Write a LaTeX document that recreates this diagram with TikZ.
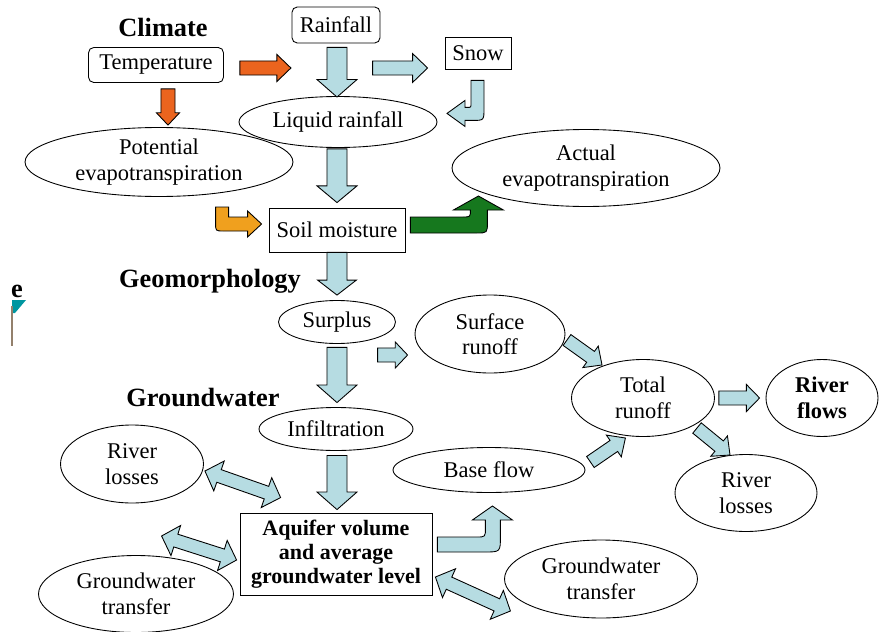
\documentclass[tikz,border=0pt]{standalone}
\usepackage{fontspec}
\setmainfont{Liberation Serif}
\usetikzlibrary{shapes.geometric, calc, positioning}

\definecolor{flowblue}{RGB}{182,220,226}
\definecolor{heatorange}{RGB}{235,100,30}
\definecolor{warmorange}{RGB}{240,160,30}
\definecolor{etgreen}{RGB}{22,120,30}
\definecolor{tealmark}{RGB}{0,150,160}

% straight block arrow: style, shaft half width, head half width, head length, from, to
\newcommand{\blockarrow}[6]{%
  \coordinate (ba-s) at #5;
  \coordinate (ba-e) at #6;
  \coordinate (ba-h) at ($(ba-e)!#4!(ba-s)$);
  \draw[#1] ($(ba-s)!#2!90:(ba-e)$) -- ($(ba-h)!#2!90:(ba-e)$) -- ($(ba-h)!#3!90:(ba-e)$) -- (ba-e)
    -- ($(ba-h)!#3!-90:(ba-e)$) -- ($(ba-h)!#2!-90:(ba-e)$) -- ($(ba-s)!#2!-90:(ba-e)$) -- cycle;
}
% double headed block arrow
\newcommand{\dblockarrow}[6]{%
  \coordinate (ba-s) at #5;
  \coordinate (ba-e) at #6;
  \coordinate (ba-h) at ($(ba-e)!#4!(ba-s)$);
  \coordinate (ba-t) at ($(ba-s)!#4!(ba-e)$);
  \draw[#1] (ba-s) -- ($(ba-t)!#3!90:(ba-e)$) -- ($(ba-t)!#2!90:(ba-e)$) -- ($(ba-h)!#2!90:(ba-e)$)
    -- ($(ba-h)!#3!90:(ba-e)$) -- (ba-e) -- ($(ba-h)!#3!-90:(ba-e)$) -- ($(ba-h)!#2!-90:(ba-e)$)
    -- ($(ba-t)!#2!-90:(ba-e)$) -- ($(ba-t)!#3!-90:(ba-e)$) -- cycle;
}

\begin{document}
\begin{tikzpicture}[
    x=0.02cm, y=-0.02cm,
    box/.style={rectangle, draw=black, line width=0.5pt, fill=white, inner sep=2pt,
                align=center, font=\fontsize{12.8}{14.5}\selectfont},
    roundbox/.style={box, rounded corners=3pt},
    oval/.style={ellipse, draw=black, line width=0.5pt, fill=white, inner sep=0pt,
                 align=center, font=\fontsize{12.8}{14.5}\selectfont},
    heading/.style={font=\fontsize{15}{18}\selectfont\bfseries},
    bluearrow/.style={draw=black, line width=0.5pt, fill=flowblue},
    orangearrow/.style={draw=black, line width=0.5pt, fill=heatorange},
    warmarrow/.style={draw=black, line width=0.5pt, fill=warmorange},
    greenarrow/.style={draw=black, line width=0.5pt, fill=etgreen}
]
\useasboundingbox (0,0) rectangle (879,632);

% ==================== CLIMATE ====================
\node[heading] (climate) at (163,27) {Climate};
\node[roundbox, minimum width=2.7cm, minimum height=0.7cm] (temperature) at (156,65) {Temperature};
\node[roundbox, minimum width=1.76cm, minimum height=0.72cm] (rainfall) at (336,25) {Rainfall};
\node[box, minimum width=1.32cm, minimum height=0.64cm] (snow) at (478,53) {Snow};
\node[oval, minimum width=3.96cm, minimum height=1.02cm] (liquid-rainfall) at (338,122) {Liquid rainfall};
\node[oval, minimum width=5.36cm, minimum height=1.38cm] (potential-et) at (159,162) {Potential\\evapotranspiration};
\node[oval, minimum width=5.36cm, minimum height=1.54cm] (actual-et) at (586,168) {Actual\\evapotranspiration};
\node[box, minimum width=2.72cm, minimum height=0.88cm] (soil-moisture) at (337,230) {Soil moisture};

% ==================== GEOMORPHOLOGY ====================
\node[heading] (geomorphology) at (210,281) {Geomorphology};
\node[oval, minimum width=2.34cm, minimum height=0.86cm] (surplus) at (337,322) {Surplus};
\node[oval, minimum width=3.0cm, minimum height=1.56cm] (surface-runoff) at (490,334) {Surface\\runoff};
\node[oval, minimum width=2.86cm, minimum height=1.54cm] (total-runoff) at (643,398) {Total\\runoff};
\node[oval, minimum width=2.24cm, minimum height=1.54cm, font=\fontsize{12.8}{14.5}\selectfont\bfseries] (river-flows) at (822,398) {River\\flows};
\node[oval, minimum width=2.84cm, minimum height=1.54cm] (river-losses-r) at (746,493) {River\\losses};

% ==================== GROUNDWATER ====================
\node[heading] (groundwater) at (203,398) {Groundwater};
\node[oval, minimum width=3.08cm, minimum height=0.86cm] (infiltration) at (336,429) {Infiltration};
\node[oval, minimum width=3.84cm, minimum height=0.9cm] (base-flow) at (489,470) {Base flow};
\node[oval, minimum width=2.86cm, minimum height=1.56cm] (river-losses-l) at (132,464) {River\\losses};
\node[box, minimum width=3.84cm, minimum height=1.64cm, font=\fontsize{12.5}{13.5}\selectfont\bfseries] (aquifer) at (336,554) {Aquifer volume\\and average\\groundwater level};
\node[oval, minimum width=3.9cm, minimum height=1.54cm] (gw-transfer-l) at (136,594) {Groundwater\\transfer};
\node[oval, minimum width=3.86cm, minimum height=1.56cm] (gw-transfer-r) at (601,579) {Groundwater\\transfer};

% left edge remnant
\node[heading, inner sep=0pt] (edge-letter) at (17,291) {e};
\fill[tealmark] (12,300) -- (26,300) -- (15,313) -- (12,313) -- cycle;
\draw[line width=1.2pt, gray!70!brown] (12,306) -- (12,346);

% ==================== ARROWS ====================
% Temperature
\blockarrow{orangearrow}{4pt}{7.7pt}{8pt}{($(temperature.east)+(16,3)$)}{($(temperature.east)+(67,3)$)}
\blockarrow{orangearrow}{4pt}{6.6pt}{7pt}{($(temperature.south)+(12,6)$)}{($(potential-et.north)+(9,-2)$)}

% Rainfall and snow
\blockarrow{bluearrow}{5.7pt}{11.4pt}{10pt}{($(rainfall.south)+(1,4)$)}{($(liquid-rainfall.north)+(-1,1)$)}
\blockarrow{bluearrow}{4pt}{8.2pt}{8.5pt}{($(snow.west)+(-72,15)$)}{($(snow.west)+(-17,15)$)}
\draw[bluearrow, shift={(snow.south)}] (-7,11) -- (6,11) -- (6,39) .. controls (6,51) .. (-6,51)
    -- (-13,51) -- (-13,57) -- (-31,44) -- (-13,31) -- (-13,38) -- (-11,38) .. controls (-7,38) .. (-7,34) -- cycle;
\blockarrow{bluearrow}{5.7pt}{11.4pt}{9.5pt}{($(liquid-rainfall.south)+(-1,1)$)}{($(soil-moisture.north)+(0,-5)$)}

% Evapotranspiration
\draw[warmarrow, shift={(soil-moisture.west)}] (-53,-23) -- (-40,-23) -- (-40,-13) -- (-21,-13) -- (-21,-19)
    -- (-7,-6) -- (-21,7) -- (-21,1) -- (-45,1) .. controls (-53,1) .. (-53,-7) -- cycle;
\draw[greenarrow, shift={(soil-moisture.east)}] (5,-13) -- (57,-13) .. controls (65,-13) .. (65,-20)
    -- (48,-20) -- (73,-34) -- (98,-20) -- (82,-20) -- (82,-8) .. controls (82,3) .. (71,3) -- (5,3) -- cycle;

% Runoff
\blockarrow{bluearrow}{5.7pt}{11pt}{8.5pt}{(soil-moisture.south)}{($(surplus.north)+(0,-5)$)}
\blockarrow{bluearrow}{4pt}{7.4pt}{7pt}{($(surface-runoff.west)+(-37,21)$)}{($(surface-runoff.west)+(-7,21)$)}
\blockarrow{bluearrow}{5.7pt}{11.4pt}{10pt}{($(surplus.south)+(0,3.5)$)}{($(infiltration.north)+(1,-4.5)$)}
\blockarrow{bluearrow}{5.7pt}{11.4pt}{10pt}{($(infiltration.south)+(1,4.5)$)}{($(aquifer.north)+(1,-3)$)}
\blockarrow{bluearrow}{3.8pt}{7.5pt}{8pt}{($(total-runoff)+(-76,-58)$)}{($(total-runoff)+(-41,-33)$)}
\blockarrow{bluearrow}{3.8pt}{7.5pt}{8pt}{($(base-flow.east)+(5,-8)$)}{($(base-flow.east)+(40,-32)$)}
\blockarrow{bluearrow}{4pt}{7.7pt}{7.5pt}{($(total-runoff.east)+(4,0)$)}{($(river-flows.west)+(-6,0)$)}
\blockarrow{bluearrow}{3.8pt}{7.5pt}{8pt}{($(river-losses-r)+(-49,-65)$)}{($(river-losses-r)+(-16,-38)$)}

% Aquifer exchanges
\dblockarrow{bluearrow}{3.8pt}{9pt}{8.5pt}{($(river-losses-l.east)+(1,7)$)}{($(aquifer.north west)+(41,-15)$)}
\dblockarrow{bluearrow}{3.8pt}{9pt}{8.5pt}{($(aquifer.west)+(-78,-18)$)}{($(aquifer.west)+(-3,6)$)}
\dblockarrow{bluearrow}{3.8pt}{9pt}{8.5pt}{($(aquifer.east)+(3,23)$)}{($(aquifer.east)+(78,57)$)}
\draw[bluearrow, shift={(aquifer.east)}] (5,-17) -- (44,-17) .. controls (53,-17) .. (53,-26) -- (53,-34)
    -- (40,-34) -- (60,-48) -- (80,-34) -- (68,-34) -- (68,-18) .. controls (68,-2) .. (52,-2) -- (5,-2) -- cycle;

\end{tikzpicture}
\end{document}
